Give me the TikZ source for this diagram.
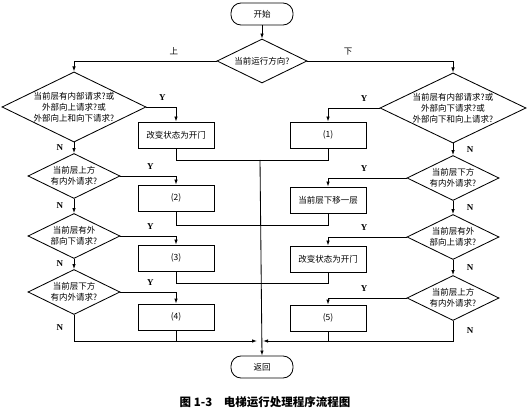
\documentclass[tikz,border=0pt]{standalone}
\usepackage{fontspec}
\setmainfont{Liberation Serif}
\newfontfamily\cjk{Noto Sans CJK SC}
\usetikzlibrary{shapes.geometric,arrows.meta}

\begin{document}
\begin{tikzpicture}[x=1pt,y=-1pt,line width=0.85pt,
    every node/.style={font=\cjk\fontsize{8.5}{11}\selectfont},
    term/.style={draw,rounded corners=10pt,minimum width=62pt,minimum height=22pt,inner sep=0pt},
    ask/.style={draw,diamond,aspect=2,inner sep=0pt,align=center,minimum width=92pt,minimum height=45pt},
    act/.style={draw,rectangle,minimum width=76pt,minimum height=26pt,inner sep=0pt},
    yn/.style={font=\bfseries\fontsize{9}{10}\selectfont},
    >={Latex[length=5pt,width=3.5pt]}]
  \useasboundingbox (0,0) rectangle (529,411);
  \node[term] (start) at (262,14) {开始};
  \node[ask,minimum width=90pt,minimum height=44pt] (dir) at (262,61) {当前运行方向?};
  % going up
  \node[ask,minimum width=144pt,minimum height=68pt] (u1) at (74,107) {当前层有内部请求?或\\外部向上请求?或\\外部向上和向下请求?};
  \node[act] (a1) at (176,135) {改变状态为开门};
  \node[ask] (u2) at (74,176) {当前层上方\\有内外请求?};
  \node[act] (a2) at (176,198) {(2)};
  \node[ask] (u3) at (74,236) {当前层有外\\部向下请求?};
  \node[act] (a3) at (176,258) {(3)};
  \node[ask] (u4) at (74,292) {当前层下方\\有内外请求?};
  \node[act] (a4) at (176,317) {(4)};
  % going down
  \node[ask,minimum width=146pt,minimum height=68pt] (d1) at (453,108) {当前层有内部请求?或\\外部向下请求?或\\外部向下和向上请求?};
  \node[act] (b1) at (328,135) {(1)};
  \node[ask] (d2) at (453,178) {当前层下方\\有内外请求?};
  \node[act] (b2) at (328,200) {当前层下移一层};
  \node[ask] (d3) at (453,237) {当前层有外\\部向上请求?};
  \node[act] (b3) at (328,259) {改变状态为开门};
  \node[ask] (d4) at (453,298) {当前层上方\\有内外请求?};
  \node[act] (b4) at (328,318) {(5)};
  \node[term] (ret) at (262,367) {返回};
  \node[font=\cjk\bfseries\fontsize{11.5}{14}\selectfont] (cap) at (265,402) {图 1-3\quad 电梯运行处理程序流程图};

  \coordinate (m1) at (260,160);
  \coordinate (m2) at (260,225);
  \coordinate (m3) at (260,283);
  \coordinate (jl) at (257,341);
  \coordinate (jr) at (263,341);

  \draw[->] (start) -- (dir);
  \draw[->] (dir.west) -| node[pos=0.15,above=2pt]{上} (u1.north);
  \draw[->] (dir.east) -| node[pos=0.14,above=2pt]{下} (d1.north);
  \foreach \q/\b in {u1/a1,u2/a2,u3/a3,u4/a4}{
    \draw[->] (\q.east) -| node[pos=0.27,above=3pt,yn]{Y} (\b.north);
  }
  \foreach \q/\b/\p in {d1/b1/0.15,d2/b2/0.27,d3/b3/0.27,d4/b4/0.27}{
    \draw[->] (\q.west) -| node[pos=\p,above=3pt,yn]{Y} (\b.north);
  }
  \foreach \p/\q in {u1/u2,u2/u3,u3/u4}{
    \draw[->] (\p) -- node[left=7pt,yn]{N} (\q);
  }
  \foreach \p/\q in {d1/d2,d2/d3,d3/d4}{
    \draw[->] (\p) -- node[right=10pt,yn]{N} (\q);
  }
  \draw (a1.south) |- (m1) (b1.south) |- (m1);
  \draw (a2.south) |- (m2) (b2.south) |- (m2);
  \draw (a3.south) |- (m3) (b3.south) |- (m3);
  \draw[->] (u4.south) |- node[pos=0.25,left=7pt,yn]{N} (jl);
  \draw[->] (d4.south) |- node[pos=0.25,right=10pt,yn]{N} (jr);
  \draw (a4.south) -- (a4.south |- jl);
  \draw (b4.south) -- (b4.south |- jr);
  \draw[->] (m1) -- (ret.north);
\end{tikzpicture}
\end{document}
